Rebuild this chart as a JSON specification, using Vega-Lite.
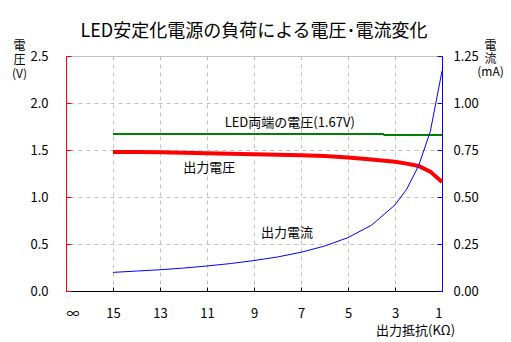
{
  "$schema": "https://vega.github.io/schema/vega-lite/v6.json",
  "width": 376,
  "height": 235,
  "autosize": "none",
  "padding": {"left": 66, "top": 56, "right": 69, "bottom": 51},
  "background": "white",
  "config": {
    "font": "Noto Sans CJK JP",
    "view": {"stroke": "#c0c0c0"},
    "axis": {"labelFont": "Noto Sans CJK JP", "titleFont": "Noto Sans CJK JP", "labelColor": "black", "titleColor": "black", "labelFontSize": 13, "titleFontSize": 12, "titleFontWeight": "normal"}
  },
  "title": {"text": "LED安定化電源の負荷による電圧･電流変化", "fontSize": 18, "fontWeight": "normal", "color": "black", "anchor": "middle", "offset": -2, "font": "Noto Sans CJK JP"},
  "datasets": {
    "out": [
      {"R": 15, "V": 1.48, "I": 0.099},
      {"R": 14, "V": 1.48, "I": 0.106},
      {"R": 13, "V": 1.475, "I": 0.113},
      {"R": 12, "V": 1.47, "I": 0.122},
      {"R": 11, "V": 1.465, "I": 0.133},
      {"R": 10, "V": 1.46, "I": 0.146},
      {"R": 9, "V": 1.455, "I": 0.162},
      {"R": 8, "V": 1.45, "I": 0.181},
      {"R": 7, "V": 1.445, "I": 0.206},
      {"R": 6, "V": 1.435, "I": 0.239},
      {"R": 5, "V": 1.42, "I": 0.284},
      {"R": 4, "V": 1.4, "I": 0.35},
      {"R": 3, "V": 1.375, "I": 0.458},
      {"R": 2.5, "V": 1.355, "I": 0.542},
      {"R": 2, "V": 1.33, "I": 0.665},
      {"R": 1.5, "V": 1.27, "I": 0.847},
      {"R": 1, "V": 1.16, "I": 1.17}
    ],
    "led": [
      {"R": 15, "V": 1.67},
      {"R": 3.5, "V": 1.67},
      {"R": 3.45, "V": 1.66},
      {"R": 1, "V": 1.66}
    ],
    "labels": [
      {"R": 7.48, "V": 1.79, "t": "LED両端の電圧(1.67V)"},
      {"R": 10.9, "V": 1.31, "t": "出力電圧"},
      {"R": 7.6, "V": 0.62, "t": "出力電流"}
    ]
  },
  "layer": [
    {
      "layer": [
        {
          "data": {"name": "led"},
          "mark": {"type": "line", "color": "#008000", "strokeWidth": 2},
          "encoding": {
            "x": {"field": "R", "type": "quantitative",
              "scale": {"domain": [1, 17], "reverse": true, "nice": false, "zero": false},
              "axis": {"values": [17, 15, 13, 11, 9, 7, 5, 3, 1], "labelExpr": "datum.value == 17 ? '∞' : datum.label",
                "domainColor": "black", "domainWidth": 1, "tickColor": "black", "tickSize": -4, "labelPadding": 20,
                "grid": true, "gridColor": "#c0c0c0", "gridDash": [4, 4],
                "title": "出力抵抗(KΩ)", "titleFontSize": 13, "titleAngle": 0, "titleX": 349, "titleY": 39, "titleAlign": "center", "titleBaseline": "middle"}},
            "y": {"field": "V", "type": "quantitative",
              "scale": {"domain": [0, 2.5], "nice": false},
              "axis": {"orient": "left", "values": [0, 0.5, 1, 1.5, 2, 2.5], "format": ".1f",
                "domainColor": "#ff0000", "tickColor": "#ff0000", "tickSize": -5, "labelPadding": 23,
                "grid": true, "gridColor": "#c0c0c0", "gridDash": [4, 4],
                "title": ["電", "圧", "(V)"], "titleAngle": 0, "titleX": -47, "titleY": -16, "titleAlign": "center", "titleBaseline": "top", "titleLineHeight": 14}}
          }
        },
        {
          "data": {"name": "out"},
          "mark": {"type": "line", "color": "#ff0000", "strokeWidth": 4},
          "encoding": {
            "x": {"field": "R", "type": "quantitative"},
            "y": {"field": "V", "type": "quantitative"}
          }
        },
        {
          "data": {"name": "labels"},
          "mark": {"type": "text", "fontSize": 13, "color": "black", "align": "center", "baseline": "middle"},
          "encoding": {
            "x": {"field": "R", "type": "quantitative"},
            "y": {"field": "V", "type": "quantitative"},
            "text": {"field": "t"}
          }
        }
      ]
    },
    {
      "data": {"name": "out"},
      "mark": {"type": "line", "color": "#0000ff", "strokeWidth": 1},
      "encoding": {
        "x": {"field": "R", "type": "quantitative"},
        "y": {"field": "I", "type": "quantitative",
          "scale": {"domain": [0, 1.25], "nice": false},
          "axis": {"orient": "right", "values": [0, 0.25, 0.5, 0.75, 1, 1.25], "format": ".2f",
            "domainColor": "#0000ff", "tickColor": "#0000ff", "tickSize": -5, "labelPadding": 16, "grid": false,
            "title": ["電", "流", "", "(mA)"], "titleAngle": 0, "titleX": 48, "titleY": -16, "titleAlign": "center", "titleBaseline": "top", "titleLineHeight": 13}}
      }
    }
  ],
  "resolve": {"scale": {"y": "independent"}}
}
